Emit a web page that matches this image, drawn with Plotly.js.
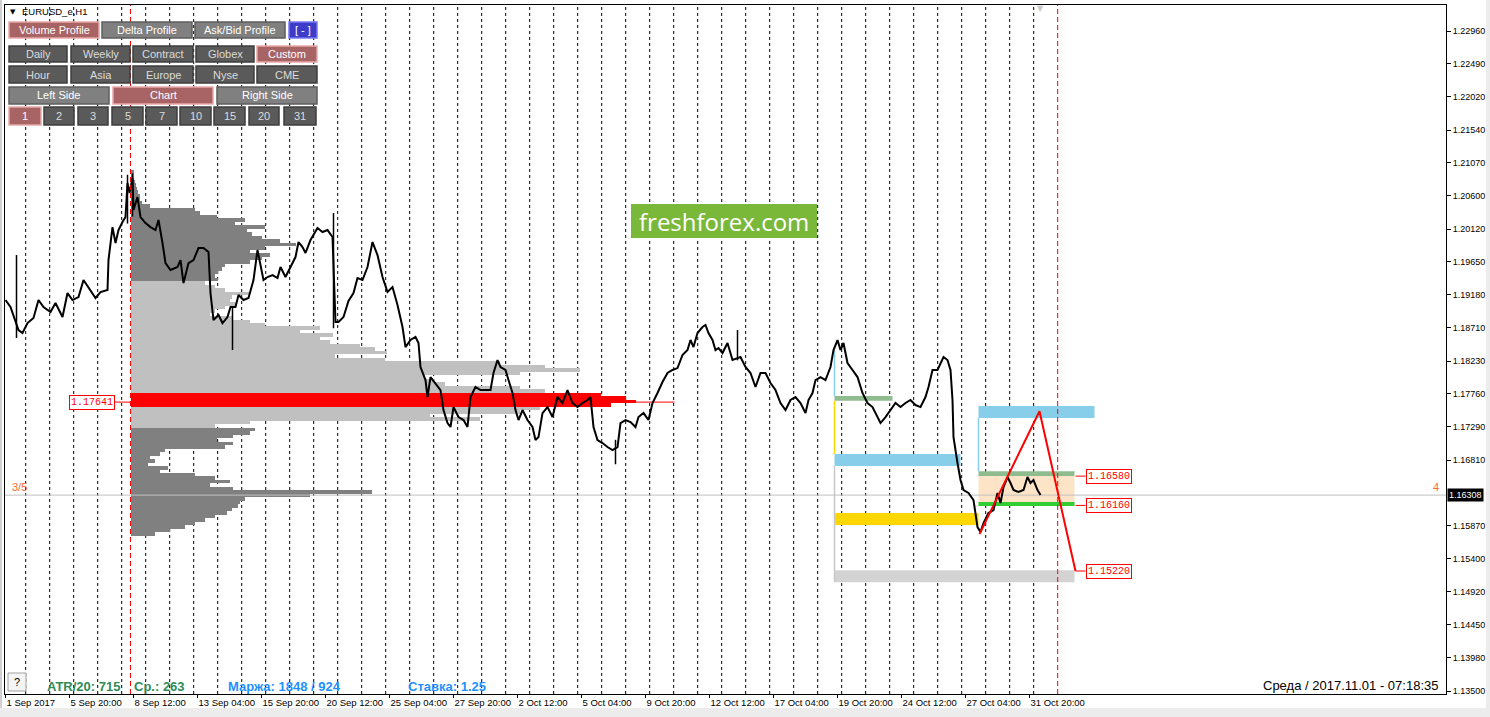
<!DOCTYPE html>
<html><head><meta charset="utf-8">
<script src="https://cdn.plot.ly/plotly-3.0.1.min.js"></script>
<style>html,body{margin:0;padding:0;background:#fff;}#chart{width:1490px;height:717px;}</style>
</head><body><div id="chart"></div>
<script>
// ---------------- DATA ----------------
const symbolTitle = "EURUSD_e,H1";
const priceBars = [0,5,13,17,22,28,33,38,45,50,57,62,67,73,78,83,90,95,102,103,107,110,113,117,120,122,124,127,128,132,135,140,145,150,153,157,160,165,172,175,178,183,188,193,198,203,205,208,213,217,222,225,230,233,238,243,248,252,255,258,262,267,272,275,280,285,290,293,297,300,305,312,317,322,327,330,333,338,343,348,352,357,362,367,372,377,382,387,392,397,400,405,410,413,415,420,422,425,430,435,438,442,445,448,453,458,462,465,470,475,480,485,488,492,495,500,503,507,510,513,517,522,527,530,533,537,542,547,552,557,562,567,572,577,582,585,588,592,597,602,607,612,615,620,625,630,633,638,643,647,652,657,662,667,672,677,682,685,688,692,697,700,703,707,710,713,717,722,727,735,740,745,750,755,760,765,770,775,780,785,790,795,800,803,807,810,815,820,825,828,832,835,838,842,847,852,857,862,867,872,875,880,885,890,895,900,905,910,915,920,923,927,932,935,938,942,945,947,948,952,955,958,963,968,972,975,978,983,988,992,995,998,1002,1005,1008,1013,1018,1022,1025,1028,1032,1035];
const priceClose = [1.19104,1.19004,1.18674,1.18631,1.18774,1.18846,1.19104,1.19004,1.18932,1.19061,1.18860,1.19204,1.19104,1.19147,1.19391,1.19290,1.19133,1.19219,1.19247,1.19677,1.20150,1.19921,1.20107,1.20222,1.20294,1.20781,1.20638,1.20853,1.20394,1.20580,1.20294,1.20208,1.20150,1.20107,1.20251,1.19921,1.19634,1.19534,1.19577,1.19677,1.19348,1.19634,1.19677,1.19849,1.19849,1.19792,1.19204,1.18817,1.18889,1.18774,1.18860,1.19004,1.19004,1.19176,1.19104,1.19133,1.19391,1.19821,1.19577,1.19391,1.19434,1.19462,1.19419,1.19577,1.19434,1.19577,1.19720,1.19935,1.19864,1.19778,1.19964,1.20136,1.20079,1.20107,1.20007,1.18789,1.18789,1.18860,1.19090,1.19204,1.19419,1.19391,1.19577,1.19935,1.19749,1.19434,1.19219,1.19290,1.19032,1.18717,1.18430,1.18531,1.18574,1.18488,1.18144,1.17957,1.17714,1.18000,1.17914,1.17814,1.17527,1.17341,1.17284,1.17570,1.17427,1.17384,1.17284,1.17714,1.17857,1.17814,1.17814,1.17814,1.18058,1.18244,1.18144,1.18101,1.17957,1.17771,1.17527,1.17384,1.17527,1.17384,1.17284,1.17097,1.17140,1.17484,1.17570,1.17427,1.17714,1.17628,1.17814,1.17628,1.17570,1.17628,1.17671,1.17714,1.17284,1.17097,1.17054,1.16997,1.16954,1.16997,1.17341,1.17384,1.17355,1.17284,1.17427,1.17484,1.17384,1.17628,1.17771,1.17929,1.18058,1.18101,1.18129,1.18316,1.18387,1.18531,1.18430,1.18631,1.18717,1.18746,1.18631,1.18531,1.18387,1.18416,1.18344,1.18488,1.18244,1.18287,1.18144,1.18058,1.17857,1.18058,1.18058,1.17914,1.17814,1.17628,1.17527,1.17671,1.17714,1.17628,1.17484,1.17671,1.17771,1.17957,1.18000,1.17957,1.18144,1.18387,1.18531,1.18387,1.18488,1.18201,1.18101,1.18000,1.17771,1.17628,1.17570,1.17427,1.17341,1.17427,1.17527,1.17628,1.17570,1.17628,1.17671,1.17599,1.17570,1.17714,1.17857,1.18101,1.18101,1.18201,1.18287,1.18244,1.18101,1.17671,1.17140,1.16768,1.16524,1.16381,1.16338,1.16237,1.15850,1.15779,1.15908,1.16051,1.16094,1.16338,1.16194,1.16424,1.16567,1.16481,1.16381,1.16352,1.16381,1.16567,1.16481,1.16524,1.16381,1.16309];
// long single-bar wicks (high / low)
const wickBars = [11, 122, 127, 227, 328, 610, 732];
const wickHigh = [1.19749, 1.20900, 1.20920, 1.18990, 1.20351, 1.17100, 1.18674];
const wickLow  = [1.18560, 1.20200, 1.20300, 1.18387, 1.18700, 1.16750, 1.18240];

const profileLevels = [1.2095,1.2090,1.2085,1.2080,1.2075,1.2070,1.2065,1.2060,1.2055,1.2050,1.2045,1.2040,1.2035,1.2030,1.2025,1.2020,1.2015,1.2010,1.2005,1.2000,1.1995,1.1990,1.1985,1.1980,1.1975,1.1970,1.1965,1.1960,1.1955,1.1950,1.1945,1.1940,1.1935,1.1930,1.1925,1.1920,1.1915,1.1910,1.1905,1.1900,1.1895,1.1890,1.1885,1.1880,1.1875,1.1870,1.1865,1.1860,1.1855,1.1850,1.1845,1.1840,1.1835,1.1830,1.1825,1.1820,1.1815,1.1810,1.1805,1.1800,1.1795,1.1790,1.1785,1.1780,1.1775,1.1770,1.1765,1.1760,1.1755,1.1750,1.1745,1.1740,1.1735,1.1730,1.1725,1.1720,1.1715,1.1710,1.1705,1.1700,1.1695,1.1690,1.1685,1.1680,1.1675,1.1670,1.1665,1.1660,1.1655,1.1650,1.1645,1.1640,1.1635,1.1630,1.1625,1.1620,1.1615,1.1610,1.1605,1.1600,1.1595,1.1590,1.1585,1.1580,1.1575];
const profileVolume = [3,3,3,4,5,6,7,9,9,11,19,64,69,86,114,104,134,116,121,131,149,165,134,119,139,131,119,94,91,87,84,87,74,84,94,119,101,99,105,94,84,79,102,119,134,189,169,202,189,199,229,244,256,204,254,369,414,449,389,294,304,314,389,414,470,495,505,480,409,389,299,349,119,84,124,119,102,86,102,94,34,29,19,24,17,37,29,64,84,99,79,102,241,179,114,109,107,101,96,84,74,64,54,39,24];
const profileStartBar = 125.5;
const pocPrice = 1.17641;
const pocEndBar = 669;
const valueAreaHigh = 1.1937, valueAreaLow = 1.1728;
const pocBandHigh = 1.1777, pocBandLow = 1.1758;
const currentPrice = 1.16308;

const timeTickBars = [0,64,128,192,256,320,384,448,512,576,640,704,768,832,896,960,1024];
const timeTickLabels = ["1 Sep 2017","5 Sep 20:00","8 Sep 12:00","13 Sep 04:00","15 Sep 20:00","20 Sep 12:00","25 Sep 04:00","27 Sep 20:00","2 Oct 12:00","5 Oct 04:00","9 Oct 20:00","12 Oct 12:00","17 Oct 04:00","19 Oct 20:00","24 Oct 12:00","27 Oct 04:00","31 Oct 20:00"];
const priceTickVals = [1.2296,1.2249,1.2202,1.2154,1.2107,1.2060,1.2012,1.1965,1.1918,1.1871,1.1823,1.1776,1.1729,1.1681,1.1587,1.1540,1.1492,1.1445,1.1398,1.1350];
const firstDaySeparator = 20.2, hoursPerDay = 24, daySeparatorCount = 43;
const profileStartLineBar = 125, currentDayBar = 1052.2;

// analysis zones
const zoneStart = [829, 829, 829, 829, 973, 973, 973, 973];
const zoneEnd   = [887, 955, 973, 1069, 1089, 1069, 1069, 1069];
const zoneLow   = [1.1766, 1.16725, 1.1588, 1.1506, 1.17413, 1.1616, 1.1658, 1.1615];
const zoneHigh  = [1.1773, 1.16897, 1.1605, 1.1523, 1.17585, 1.1658, 1.1665, 1.1621];
const zoneKind  = ["green","blue","gold","gray","blue","peach","green","lime"];
const zigzagBars = [974, 1034, 1070];
const zigzagPrices = [1.1575, 1.1751, 1.1522];
const levelLabels = [1.16580, 1.16160, 1.15220];
const levelLabelBar = 1080, levelLineStart = 1070;

const buttonRows = [
  ["Volume Profile","Delta Profile","Ask/Bid Profile","[ - ]"],
  ["Daily","Weekly","Contract","Globex","Custom"],
  ["Hour","Asia","Europe","Nyse","CME"],
  ["Left Side","Chart","Right Side"],
  ["1","2","3","5","7","10","15","20","31"]
];
const statusTexts = ["ATR/20: 715","Ср.: 263","Маржа: 1848 / 924","Ставка: 1.25"];
const clockText = "Среда / 2017.11.01 - 07:18:35";
const watermark = "freshforex.com";

// ---------------- LAYOUT HELPERS ----------------
const W=1490,H=717,L=5,R=1446,T=5,B=694;
const px = x => (x-L)/(R-L);
const py = y => (B-y)/(B-T);

const traces = [];
const colors = profileLevels.map(p => (p<=pocBandHigh && p>=pocBandLow) ? '#ff0000' : ((p<=valueAreaHigh && p>=valueAreaLow) ? '#c0c0c0' : '#808080'));
traces.push({type:'bar',orientation:'h',y:profileLevels,x:profileVolume,base:profileStartBar,width:0.0005,
  marker:{color:colors,line:{width:0}},hoverinfo:'skip',showlegend:false});
traces.push({type:'scatter',mode:'lines',x:[-0.5,1440.5],y:[currentPrice,currentPrice],line:{color:'#c0c0c0',width:1},hoverinfo:'skip',showlegend:false});
traces.push({type:'scatter',mode:'lines',x:[profileStartBar,pocEndBar],y:[pocPrice,pocPrice],line:{color:'#ff0000',width:1},hoverinfo:'skip',showlegend:false});
const wx=[],wy=[];
wickBars.forEach((b,i)=>{wx.push(b,b,null);wy.push(wickLow[i],wickHigh[i],null);});
traces.push({type:'scatter',mode:'lines',x:wx,y:wy,line:{color:'#000000',width:1.5},hoverinfo:'skip',showlegend:false,connectgaps:false});
traces.push({type:'scatter',mode:'lines',x:priceBars,y:priceClose,line:{color:'#000000',width:2},hoverinfo:'skip',showlegend:false});
traces.push({type:'scatter',mode:'lines',x:zigzagBars,y:zigzagPrices,line:{color:'#ff0000',width:2},hoverinfo:'skip',showlegend:false});

const shapes = [];
for(let k=0;k<daySeparatorCount;k++){
  const b = firstDaySeparator + hoursPerDay*k;
  shapes.push({type:'line',layer:'below',xref:'x',yref:'paper',x0:b,x1:b,y0:0,y1:1,line:{color:'#000',width:1,dash:'3px,3px'}});
}
const zoneColors = {green:'#8fbc8f',blue:'#87ceeb',gold:'#ffd700',gray:'#d3d3d3',peach:'#fde4c6',lime:'#32cd32'};
zoneStart.forEach((s,i)=>{
  shapes.push({type:'rect',layer:'below',xref:'x',yref:'y',x0:s,x1:zoneEnd[i],y0:zoneLow[i],y1:zoneHigh[i],fillcolor:zoneColors[zoneKind[i]],line:{width:0}});
});
shapes.push({type:'line',layer:'below',xref:'x',yref:'y',x0:zoneStart[0],x1:zoneStart[0],y0:zoneHigh[1],y1:zoneLow[0],line:{color:'#ffd700',width:1.5}});
shapes.push({type:'line',layer:'below',xref:'x',yref:'y',x0:zoneStart[0],x1:zoneStart[0],y0:zoneHigh[0],y1:1.1839,line:{color:'#87ceeb',width:1.5}});
shapes.push({type:'line',layer:'below',xref:'x',yref:'y',x0:zoneStart[0],x1:zoneStart[0],y0:zoneLow[3],y1:zoneLow[1],line:{color:'#c8c8c8',width:1.5}});
shapes.push({type:'line',layer:'below',xref:'x',yref:'y',x0:zoneStart[4],x1:zoneStart[4],y0:zoneHigh[6],y1:zoneLow[4],line:{color:'#87ceeb',width:1.5}});
[profileStartLineBar,currentDayBar].forEach(b=>shapes.push({type:'line',layer:'above',xref:'x',yref:'paper',x0:b,x1:b,y0:0,y1:1,line:{color:'#ff0000',width:1,dash:'5px,3px'}}));
levelLabels.forEach(v=>shapes.push({type:'line',xref:'x',yref:'y',x0:levelLineStart,x1:levelLabelBar,y0:v,y1:v,line:{color:'#ff0000',width:1}}));
shapes.push({type:'line',xref:'x',yref:'y',x0:109,x1:profileStartBar,y0:pocPrice,y1:pocPrice,line:{color:'#ff0000',width:1}});

const annotations = [];
const mono = {family:'Liberation Mono, DejaVu Sans Mono, monospace',size:10,color:'#ff0000'};
levelLabels.forEach(v=>annotations.push({xref:'x',yref:'y',x:levelLabelBar,y:v,xanchor:'left',yanchor:'middle',text:v.toFixed(5),showarrow:false,font:mono,bgcolor:'#ffffff',bordercolor:'#ff0000',borderwidth:1,borderpad:1}));
annotations.push({xref:'x',yref:'y',x:109,y:pocPrice,xanchor:'right',yanchor:'middle',text:pocPrice.toFixed(5),showarrow:false,font:mono,bgcolor:'#ffffff',bordercolor:'#ff0000',borderwidth:1,borderpad:1});
annotations.push({xref:'paper',yref:'y',x:1,y:currentPrice,xanchor:'left',yanchor:'middle',xshift:1,text:currentPrice.toFixed(5),showarrow:false,font:{family:'Liberation Sans, Arial, sans-serif',size:9,color:'#fff'},bgcolor:'#000',borderpad:1});
annotations.push({xref:'paper',yref:'paper',x:px(10),y:py(487),xanchor:'left',yanchor:'middle',text:'3/5',showarrow:false,font:{family:'Liberation Sans, Arial',size:11,color:'#ff6a33'}});
annotations.push({xref:'paper',yref:'paper',x:px(1436),y:py(487),xanchor:'center',yanchor:'middle',text:'4',showarrow:false,font:{family:'Liberation Sans, Arial',size:11,color:'#ff6a33'}});
annotations.push({xref:'paper',yref:'paper',x:px(8),y:py(12),xanchor:'left',yanchor:'middle',text:'▼',showarrow:false,font:{family:'DejaVu Sans',size:7,color:'#000'}});
annotations.push({xref:'paper',yref:'paper',x:px(20),y:py(12),xanchor:'left',yanchor:'middle',text:symbolTitle,showarrow:false,font:{family:'Liberation Sans, Arial',size:9.5,color:'#000'}});
annotations.push({xref:'paper',yref:'paper',x:px(1040),y:py(8),xanchor:'center',yanchor:'middle',text:'▼',showarrow:false,font:{family:'DejaVu Sans',size:8,color:'#c8c8c8'}});

const rowY = [[22,38],[46,62],[66,83],[87,104],[107,125]];
const rowX = [
  [[9,99],[102,192],[195,285],[289,317]],
  [[9,67],[71,130],[133,193],[196,254],[257,317]],
  [[9,67],[71,130],[133,193],[196,254],[257,317]],
  [[9,109],[113,213],[217,317]],
  [[9,41],[44,74],[78,108],[112,143],[146,177],[180,211],[214,245],[249,279],[284,316]]
];
const rowStyle = [
  ['red','gray','gray','blue'],
  ['dark','dark','dark','dark','red'],
  ['dark','dark','dark','dark','dark'],
  ['gray','red','gray'],
  ['red','dark','dark','dark','dark','dark','dark','dark','dark']
];
const st = {
  red:{fill:'#a86464',line:'#e8a6a6',text:'#ffffff'},
  gray:{fill:'#808080',line:'#5e5e5e',text:'#ffffff'},
  dark:{fill:'#5a5a5a',line:'#3e3e3e',text:'#dcdcdc'},
  blue:{fill:'#3c3cc8',line:'#7878f0',text:'#ffffff'}
};
buttonRows.forEach((row,r)=>row.forEach((lab,i)=>{
  const [x0,x1]=rowX[r][i],[y0,y1]=rowY[r],s=st[rowStyle[r][i]];
  shapes.push({type:'rect',xref:'paper',yref:'paper',x0:px(x0),x1:px(x1),y0:py(y1),y1:py(y0),fillcolor:s.fill,line:{color:s.line,width:1.5}});
  annotations.push({xref:'paper',yref:'paper',x:px((x0+x1)/2),y:py((y0+y1)/2),xanchor:'center',yanchor:'middle',text:lab,showarrow:false,font:{family:'Liberation Sans, Arial',size:11,color:s.text}});
}));

shapes.push({type:'rect',xref:'paper',yref:'paper',x0:px(631),x1:px(817),y0:py(238),y1:py(204),fillcolor:'#7ab83a',line:{width:0}});
annotations.push({xref:'paper',yref:'paper',x:px(724),y:py(221),xanchor:'center',yanchor:'middle',text:watermark,showarrow:false,font:{family:'Open Sans, sans-serif',size:24,color:'#ffffff'}});

shapes.push({type:'rect',xref:'paper',yref:'paper',x0:px(8),x1:px(26),y0:py(691),y1:py(673),fillcolor:'#f4f4f4',line:{color:'#a0a0a0',width:1}});
annotations.push({xref:'paper',yref:'paper',x:px(17),y:py(682),xanchor:'center',yanchor:'middle',text:'?',showarrow:false,font:{family:'Liberation Sans, Arial',size:11,color:'#000'}});
const statusX = [45,132,226,406];
const statusColor = ['#2e8b57','#2e8b57','#1e90ff','#1e90ff'];
statusTexts.forEach((t,i)=>annotations.push({xref:'paper',yref:'paper',x:px(statusX[i]),y:py(686),xanchor:'left',yanchor:'middle',text:'<b>'+t+'</b>',showarrow:false,font:{family:'Liberation Sans, Arial',size:13,color:statusColor[i]}}));
annotations.push({xref:'paper',yref:'paper',x:px(1440),y:py(685),xanchor:'right',yanchor:'middle',text:clockText,showarrow:false,font:{family:'Liberation Sans, Arial',size:13,color:'#000'}});

shapes.push({type:'rect',xref:'paper',yref:'paper',x0:px(1486),x1:px(1492),y0:py(719),y1:py(-2),fillcolor:'#ececec',line:{width:0}});
shapes.push({type:'rect',xref:'paper',yref:'paper',x0:px(-2),x1:px(1492),y0:py(719),y1:py(708),fillcolor:'#ececec',line:{width:0}});
shapes.push({type:'line',xref:'paper',yref:'paper',x0:px(1),x1:px(1),y0:py(708),y1:py(0),line:{color:'#a0a0a0',width:1}});

const layout = {
  width:W,height:H,margin:{l:L,r:W-R,t:T,b:H-B,pad:0},
  paper_bgcolor:'#ffffff',plot_bgcolor:'#ffffff',showlegend:false,bargap:0,
  xaxis:{range:[-0.5,1440.5],showgrid:false,zeroline:false,showline:true,linecolor:'#000',linewidth:1,mirror:true,
    tickmode:'array',tickvals:timeTickBars,ticktext:timeTickLabels,ticks:'outside',ticklen:3,tickcolor:'#000',tickangle:0,
    ticklabelposition:'outside right',ticklabeloverflow:'allow',tickfont:{family:'Liberation Sans, Arial',size:9.5,color:'#000'},automargin:false,fixedrange:true},
  yaxis:{range:[1.13457,1.23333],side:'right',showgrid:false,zeroline:false,showline:true,linecolor:'#000',linewidth:1,mirror:true,
    tickmode:'array',tickvals:priceTickVals,ticktext:priceTickVals.map(v=>v.toFixed(5)),ticks:'outside',ticklen:4,tickcolor:'#000',
    tickfont:{family:'Liberation Sans, Arial',size:9,color:'#000'},automargin:false,fixedrange:true},
  shapes:shapes,annotations:annotations
};
Plotly.newPlot('chart',traces,layout,{displayModeBar:false,staticPlot:true});
</script></body></html>
